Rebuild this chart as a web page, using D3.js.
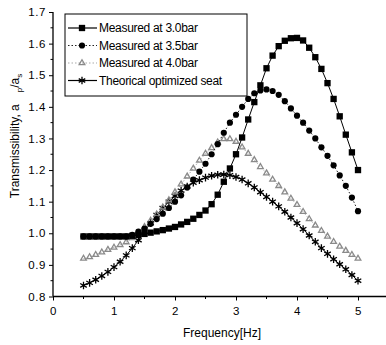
<!DOCTYPE html>
<html>
<head>
<meta charset="utf-8">
<script src="https://cdn.jsdelivr.net/npm/d3@7"></script>
<style>
  body { margin: 0; background: #fff; }
  svg { display: block; font-family: "Liberation Sans", Arial, sans-serif; }
</style>
</head>
<body>
<div class="canvas"></div>
<script>
// frequency grid, Hz
const freq = d3.range(46).map(i => +(0.5 + i * 0.1).toFixed(1))

const bar30 = [0.99, 0.99, 0.99, 0.99, 0.99, 0.99, 0.99, 0.99, 0.992, 0.995,
  0.998, 1.002, 1.006, 1.01, 1.015, 1.02, 1.028, 1.036, 1.046, 1.058,
  1.072, 1.092, 1.122, 1.163, 1.205, 1.25, 1.303, 1.36, 1.415, 1.468,
  1.522, 1.562, 1.592, 1.609, 1.617, 1.618, 1.61, 1.587, 1.557, 1.52,
  1.475, 1.425, 1.37, 1.312, 1.256, 1.2]

const bar35 = [0.99, 0.99, 0.99, 0.99, 0.99, 0.99, 0.99, 0.99, 0.995, 1.005,
  1.015, 1.03, 1.045, 1.062, 1.08, 1.1, 1.12, 1.145, 1.17, 1.195,
  1.22, 1.25, 1.282, 1.318, 1.35, 1.375, 1.4, 1.425, 1.443, 1.452,
  1.455, 1.45, 1.438, 1.418, 1.395, 1.372, 1.35, 1.325, 1.3, 1.272,
  1.245, 1.215, 1.183, 1.15, 1.113, 1.07]

const bar40 = [0.92, 0.925, 0.932, 0.94, 0.948, 0.955, 0.963, 0.972, 0.985, 1.0,
  1.02, 1.04, 1.06, 1.082, 1.105, 1.13, 1.155, 1.18, 1.205, 1.23,
  1.252, 1.27, 1.288, 1.298, 1.298, 1.29, 1.272, 1.252, 1.232, 1.21,
  1.19, 1.17, 1.15, 1.13, 1.11, 1.09, 1.068, 1.045, 1.025, 1.008,
  0.99, 0.973, 0.958, 0.945, 0.932, 0.92]

const theory = [0.835, 0.843, 0.853, 0.865, 0.878, 0.893, 0.91, 0.93, 0.953, 0.978,
  1.005, 1.032, 1.058, 1.08, 1.1, 1.118, 1.135, 1.148, 1.16, 1.168,
  1.176, 1.182, 1.185, 1.186, 1.184, 1.178, 1.17, 1.158, 1.145, 1.13,
  1.115, 1.1, 1.085, 1.068, 1.05, 1.032, 1.013, 0.993, 0.973, 0.953,
  0.935, 0.918, 0.902, 0.886, 0.868, 0.85]

const seriesNames = ['Measured at 3.0bar', 'Measured at 3.5bar', 'Measured at 4.0bar', 'Theorical optimized seat']
const xTicks = [0, 1, 2, 3, 4, 5]
const yTicks = [0.8, 0.9, 1.0, 1.1, 1.2, 1.3, 1.4, 1.5, 1.6, 1.7]

const dimension = { width: 386, height: 345 }
const x = d3.scaleLinear().domain([0, 5.5]).range([53, 388.5])
const y = d3.scaleLinear().domain([0.8, 1.7]).range([296.5, 12])

const svg = d3.select('.canvas')
  .append('svg')
  .attr('width', dimension.width)
  .attr('height', dimension.height)

// six armed star marker
const star = r => {
  let p = ''
  for (let k = 0; k < 3; k++) {
    const a = Math.PI / 2 + k * Math.PI / 3
    p += `M${r * Math.cos(a)},${r * Math.sin(a)}L${-r * Math.cos(a)},${-r * Math.sin(a)}`
  }
  return p
}

const series = [
  { name: seriesNames[0], values: bar30, dash: null, lineColor: '#000',
    marker: d3.symbol(d3.symbolSquare, 40)(), fill: '#000', stroke: 'none' },
  { name: seriesNames[1], values: bar35, dash: '1.5,2', lineColor: '#222',
    marker: d3.symbol(d3.symbolCircle, 30)(), fill: '#000', stroke: 'none' },
  { name: seriesNames[2], values: bar40, dash: '1.5,2', lineColor: '#aaa',
    marker: d3.symbol(d3.symbolTriangle, 14)(), fill: 'none', stroke: '#8a8a8a' },
  { name: seriesNames[3], values: theory, dash: null, lineColor: '#000',
    marker: star(3.8), fill: 'none', stroke: '#000' }
]

// axes
const xAxis = svg.append('g').attr('transform', `translate(0, ${y(0.8)})`)
  .call(d3.axisBottom(x).tickValues(xTicks).tickFormat(d3.format('d')).tickSize(4).tickPadding(6))
xAxis.append('g').selectAll('line')
  .data([0.5, 1.5, 2.5, 3.5, 4.5])
  .join('line')
  .attr('x1', d => x(d)).attr('x2', d => x(d))
  .attr('y1', 0).attr('y2', 2.5)
  .attr('stroke', '#000')

const yAxis = svg.append('g').attr('transform', `translate(${x(0)}, 0)`)
  .call(d3.axisLeft(y).tickValues(yTicks).tickFormat(d3.format('.1f')).tickSize(4).tickPadding(3))
yAxis.append('g').selectAll('line')
  .data(yTicks.slice(0, -1).map(d => d + 0.05))
  .join('line')
  .attr('x1', 0).attr('x2', -2.5)
  .attr('y1', d => y(d)).attr('y2', d => y(d))
  .attr('stroke', '#000')

svg.selectAll('.domain').attr('stroke', '#000').attr('stroke-width', 1.3)
svg.selectAll('.tick text').attr('font-size', 11.5).attr('fill', '#000').attr('letter-spacing', 0.6)
xAxis.select('.domain').attr('d', `M${x(0)},0H${dimension.width}`)
yAxis.select('.domain').attr('d', `M0,${y(0.8)}V${y(1.7)}`)

// axis titles
svg.append('text')
  .attr('x', 222).attr('y', 337)
  .attr('text-anchor', 'middle')
  .attr('font-size', 12)
  .text('Frequency[Hz]')

const yTitle = svg.append('text')
  .attr('transform', 'translate(19, 136) rotate(-90)')
  .attr('text-anchor', 'middle')
  .attr('font-size', 12)
yTitle.append('tspan').text('Transmissibility, a')
yTitle.append('tspan').attr('font-size', 8).attr('dx', 12).attr('dy', 3).text('p')
yTitle.append('tspan').attr('dy', -3).text('/a')
yTitle.append('tspan').attr('font-size', 8).attr('dy', 3).text('s')

// lines and markers
const line = d3.line().x(d => x(d[0])).y(d => y(d[1]))

series.slice().reverse().forEach(s => {
  const pts = freq.map((f, i) => [f, s.values[i]])
  const g = svg.append('g')
  g.append('path')
    .attr('d', line(pts))
    .attr('fill', 'none')
    .attr('stroke', s.lineColor)
    .attr('stroke-width', 1)
    .attr('stroke-dasharray', s.dash)
  g.selectAll('path.mk')
    .data(pts)
    .join('path')
    .attr('class', 'mk')
    .attr('transform', d => `translate(${x(d[0])}, ${y(d[1])})`)
    .attr('d', s.marker)
    .attr('fill', s.fill)
    .attr('stroke', s.stroke)
    .attr('stroke-width', 1.3)
})

// legend
const legend = svg.append('g')
legend.append('rect')
  .attr('x', 65).attr('y', 14)
  .attr('width', 182).attr('height', 82)
  .attr('fill', '#fff')
  .attr('stroke', '#000')
  .attr('stroke-width', 1)

series.forEach((s, i) => {
  const ly = 28 + i * 17.5
  legend.append('line')
    .attr('x1', 68).attr('x2', 97)
    .attr('y1', ly).attr('y2', ly)
    .attr('stroke', s.lineColor)
    .attr('stroke-width', 1.2)
    .attr('stroke-dasharray', s.dash)
  legend.append('path')
    .attr('transform', `translate(82, ${ly})`)
    .attr('d', s.marker)
    .attr('fill', s.fill)
    .attr('stroke', s.stroke)
    .attr('stroke-width', 1.3)
  legend.append('text')
    .attr('x', 99).attr('y', ly + 4)
    .attr('font-size', 12)
    .attr('letter-spacing', -0.3)
    .text(s.name)
})
</script>
</body>
</html>
